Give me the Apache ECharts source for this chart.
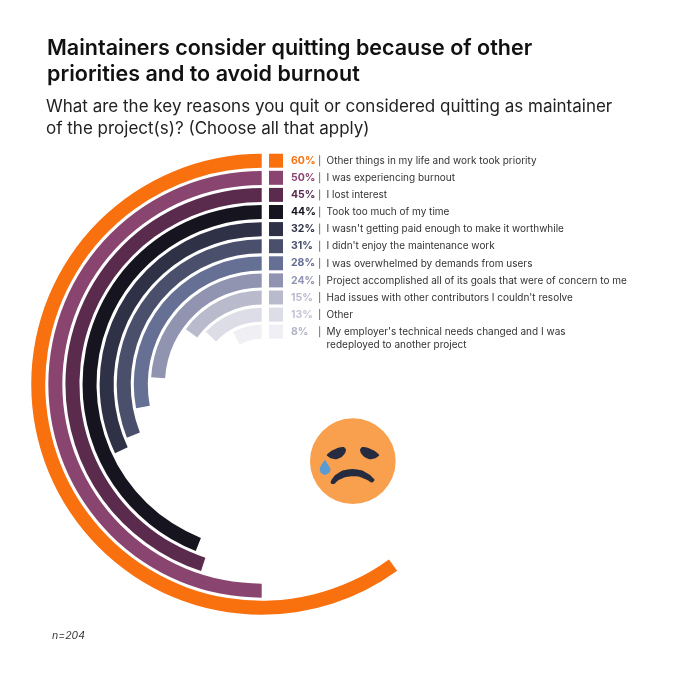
<!DOCTYPE html>
<html><head><meta charset="utf-8">
<style>html,body{margin:0;padding:0;background:#fff}#c{width:678px;height:680px}</style>
<script src="https://cdn.jsdelivr.net/npm/echarts@6/dist/echarts.min.js"></script>
</head><body><div id="c"></div>
<script>
const reasons = [
  "Other things in my life and work took priority",
  "I was experiencing burnout",
  "I lost interest",
  "Took too much of my time",
  "I wasn't getting paid enough to make it worthwhile",
  "I didn't enjoy the maintenance work",
  "I was overwhelmed by demands from users",
  "Project accomplished all of its goals that were of concern to me",
  "Had issues with other contributors I couldn't resolve",
  "Other",
  "My employer's technical needs changed and I was\nredeployed to another project"
];
const shares = [60, 50, 45, 44, 32, 31, 28, 24, 15, 13, 8];
const ringColors = ["#F9700F","#8A4470","#5B2B4E","#16151F","#2F3146","#4A4F6C","#666F94","#9094B0","#BABACD","#DDDDE7","#EFEFF4"];
const pctColors = ["#F9700F","#8A4470","#5B2B4E","#16151F","#2F3146","#4A4F6C","#666F94","#9094B0","#BABACD","#C4C4D4","#B4B4C8"];

const font = "Inter";
const rowTop = 153.7, rowStep = 17.1, swatch = 14;
const legend = [];
reasons.forEach((r, i) => {
  const y = rowTop + i * rowStep;
  legend.push({type:"rect", shape:{x:269,y:y,width:swatch,height:swatch}, style:{fill:ringColors[i]}});
  legend.push({type:"text", x:291, y:y+swatch/2, style:{text:shares[i]+"%", font:"700 10.5px "+font, fill:pctColors[i], align:"left", verticalAlign:"middle"}});
  legend.push({type:"rect", shape:{x:319.3,y:y+1.5,width:0.8,height:swatch-3}, style:{fill:"#555"}});
  legend.push({type:"text", x:326.5, y:y+0.5, style:{text:r, font:"10px "+font, lineHeight:13.5, fill:"#333", align:"left", verticalAlign:"top"}});
});

const ink = "#262B3F";
const emoji = {type:"group", x:290, y:400, scaleX:1/3, scaleY:1/3, children:[
  {type:"circle", shape:{cx:188.5,cy:183.5,r:128.5}, style:{fill:"#F9A04E"}},
  {type:"polygon", shape:{smooth:0.15, points:[[110,165],[125,152],[145,143],[162,141],[168,149],[165,160],[155,171],[138,178],[122,175]]}, style:{fill:ink}},
  {type:"polygon", shape:{smooth:0.15, points:[[268,165],[253,152],[233,143],[216,141],[210,149],[213,160],[223,171],[240,178],[256,175]]}, style:{fill:ink}},
  {type:"polygon", shape:{smooth:0.15, points:[[122,245],[135,226],[160,211],[187,207],[215,211],[240,225],[254,240],[246,248],[232,240],[210,231],[187,229],[165,232],[145,241],[133,252],[124,251]]}, style:{fill:ink}},
  {type:"polygon", shape:{smooth:0.15, points:[[105,180],[113,192],[121,205],[120,216],[105,225],[92,218],[89,205],[96,192]]}, style:{fill:"#5B9BD5"}}
]};

const option = {
  backgroundColor:"#fff",
  animation:false,
  title:[
    {text:"Maintainers consider quitting because of other\npriorities and to avoid burnout", left:47, top:36, padding:0,
     textStyle:{fontFamily:font, fontWeight:600, fontSize:21.5, lineHeight:26, color:"#111"}},
    {text:"What are the key reasons you quit or considered quitting as maintainer\nof the project(s)? (Choose all that apply)", left:46, top:96, padding:0,
     textStyle:{fontFamily:font, fontWeight:400, fontSize:17, lineHeight:22, color:"#222"}},
    {text:"n=204", left:52, top:630, padding:0, textStyle:{fontFamily:font, fontStyle:"italic", fontWeight:400, fontSize:10.5, color:"#333"}}
  ],
  polar:{center:[261.7,384.3], radius:[44,232]},
  angleAxis:{type:"value", min:0, max:100, startAngle:90, clockwise:false, show:false},
  radiusAxis:{type:"category", data:reasons, inverse:true, show:false},
  series:[{
    type:"bar", coordinateSystem:"polar", barWidth:14, silent:true,
    data:shares.map((v,i)=>({value:v, itemStyle:{color:ringColors[i]}}))
  }],
  graphic:legend.concat([emoji])
};
echarts.init(document.getElementById("c"),null,{renderer:"canvas"}).setOption(option);
</script></body></html>
